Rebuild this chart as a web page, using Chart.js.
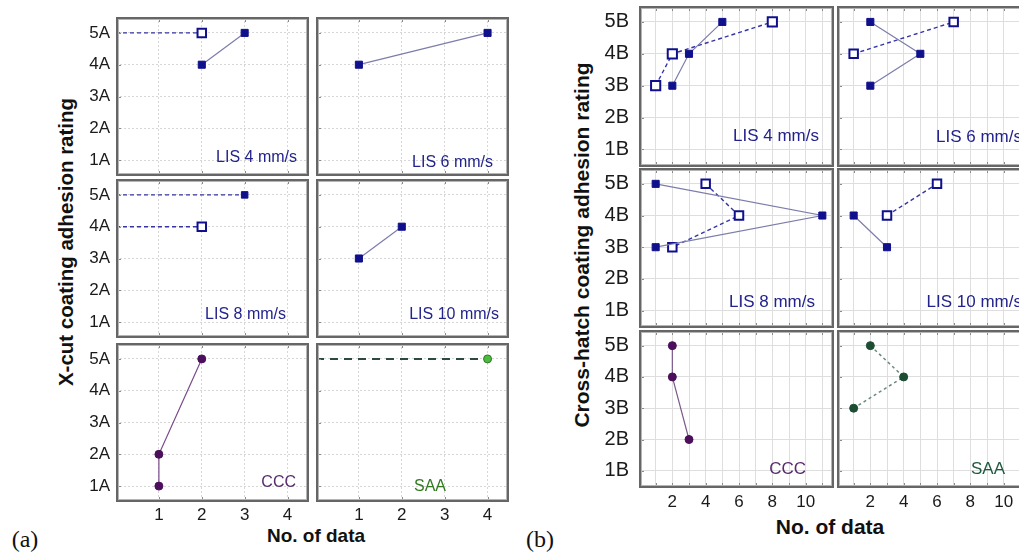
<!DOCTYPE html>
<html><head><meta charset="utf-8">
<script src="https://cdn.jsdelivr.net/npm/chart.js@4.4.1/dist/chart.umd.min.js"></script>
<style>
html,body{margin:0;padding:0;background:#fff;width:1019px;height:554px;overflow:hidden;position:relative;font-family:"Liberation Sans",Arial,sans-serif;}
canvas{position:absolute;}
.t{position:absolute;white-space:nowrap;color:#111;line-height:1;transform:translate(-50%,-50%);}
.b{font-weight:bold;}
.rot{transform:translate(-50%,-50%) rotate(-90deg);}
.serif{font-family:"Liberation Serif","Times New Roman",serif;}
</style></head><body>
<div class="t b rot" style="left:66px;top:242px;font-size:20.5px;">X-cut coating adhesion rating</div>
<div class="t b rot" style="left:581px;top:245px;font-size:21px;">Cross-hatch coating adhesion rating</div>
<div class="t b" style="left:316px;top:535px;font-size:19px;">No. of data</div>
<div class="t b" style="left:830px;top:526px;font-size:21px;">No. of data</div>
<div class="t serif" style="left:25px;top:539px;font-size:24px;">(a)</div>
<div class="t serif" style="left:540px;top:539px;font-size:24px;">(b)</div>
<script>
// ---------- tick labels / categories ----------
const panelLabels = ['LIS 4 mm/s', 'LIS 6 mm/s', 'LIS 8 mm/s', 'LIS 10 mm/s', 'CCC', 'SAA'];
const yTickLabelsA = ['1A', '2A', '3A', '4A', '5A'];
const xTickValuesA = [1, 2, 3, 4];
const yTickLabelsB = ['1B', '2B', '3B', '4B', '5B'];
const xTickValuesB = [2, 4, 6, 8, 10];

// ---------- panel (a) X-cut : [No. of data, rating] ----------
const aLis4Filled = [[2, 4], [3, 5]];
const aLis4Open = [[0, 5], [2, 5]];
const aLis6Filled = [[1, 4], [4, 5]];
const aLis8Filled = [[0, 5], [3, 5]];
const aLis8Open = [[0, 4], [2, 4]];
const aLis10Filled = [[1, 3], [2, 4]];
const aCCC = [[1, 1], [1, 2], [2, 5]];
const aSAA = [[0, 5], [4, 5]];

// ---------- panel (b) Cross-hatch : [No. of data, rating] ----------
const bLis4Filled = [[2, 3], [3, 4], [5, 5]];
const bLis4Open = [[1, 3], [2, 4], [8, 5]];
const bLis6Filled = [[2, 5], [5, 4], [2, 3]];
const bLis6Open = [[1, 4], [7, 5]];
const bLis8Filled = [[1, 5], [11, 4], [1, 3]];
const bLis8Open = [[4, 5], [6, 4], [2, 3]];
const bLis10Filled = [[1, 4], [3, 3]];
const bLis10Open = [[3, 4], [6, 5]];
const bCCC = [[2, 5], [2, 4], [3, 2]];
const bSAA = [[2, 5], [4, 4], [1, 3]];

// ---------- styles ----------
const NAVY = '#10108c';
const pts = arr => arr.map(p => ({x: p[0], y: p[1]}));
const rad = r => (c => (c.raw && c.raw.x === 0) ? 0 : r);

function filledSq(d, dashed, r) {
  return {data: pts(d), showLine: true, pointStyle: 'rect', pointRadius: rad(r || 5),
    backgroundColor: NAVY, pointBackgroundColor: NAVY, pointBorderColor: NAVY, pointBorderWidth: 1,
    borderColor: dashed ? '#3535a5' : '#7c7cab', borderWidth: dashed ? 1.4 : 1.2,
    borderDash: dashed ? [4, 3] : [], order: 1};
}
function openSq(d, r) {
  return {data: pts(d), showLine: true, pointStyle: 'rect', pointRadius: rad(r || 6),
    backgroundColor: '#ffffff', pointBackgroundColor: '#ffffff', pointBorderColor: NAVY, pointBorderWidth: 2,
    borderColor: '#3535a5', borderWidth: 1.4, borderDash: [4, 3], order: 2};
}
function circ(d, fill, stroke, line, dash, lw) {
  return {data: pts(d), showLine: true, pointStyle: 'circle', pointRadius: rad(4),
    pointBackgroundColor: fill, pointBorderColor: stroke, pointBorderWidth: 1,
    borderColor: line, borderWidth: lw || 1.2, borderDash: dash || [], order: 1};
}

const framePlugin = {
  id: 'frame',
  afterDraw(chart) {
    const {ctx, chartArea: a} = chart;
    const o = chart.options.plugins.frame || {};
    ctx.save();
    ctx.strokeStyle = '#8a8a8a'; ctx.lineWidth = 1;
    const xs = chart.scales.x, ys = chart.scales.y;
    xs.ticks.forEach(t => {
      const px = Math.round(xs.getPixelForValue(t.value)) + 0.5;
      ctx.beginPath(); ctx.moveTo(px, a.top); ctx.lineTo(px, a.top + 5);
      ctx.moveTo(px, a.bottom); ctx.lineTo(px, a.bottom - 5); ctx.stroke();
    });
    ys.ticks.forEach(t => {
      const py = Math.round(ys.getPixelForValue(t.value)) + 0.5;
      ctx.beginPath(); ctx.moveTo(a.left, py); ctx.lineTo(a.left + 5, py); ctx.stroke();
    });
    ctx.strokeStyle = '#666666'; ctx.lineWidth = 2;
    ctx.strokeRect(a.left + 1, a.top + 1, a.right - a.left - 2, a.bottom - a.top - 2);
    ctx.strokeStyle = '#b5b5b5'; ctx.lineWidth = 1;
    ctx.strokeRect(a.left + 2.5, a.top + 2.5, a.right - a.left - 5, a.bottom - a.top - 5);
    if (o.text) {
      ctx.fillStyle = o.color; ctx.font = o.font;
      ctx.textAlign = 'right'; ctx.textBaseline = 'middle';
      ctx.fillText(o.text, a.right - o.r, a.bottom - o.b);
    }
    ctx.restore();
  }
};

const FONT = '"Liberation Sans", Arial, sans-serif';
const zeroPad = sc => { sc.paddingTop = 0; sc.paddingBottom = 0; sc.paddingLeft = 0; sc.paddingRight = 0; };

function makePlot(s) {
  const yw = s.showY ? s.yw : 0;
  const xh = s.showX ? s.xh : 0;
  const c = document.createElement('canvas');
  const W = s.w + yw, H = s.h + xh;
  c.width = W; c.height = H;
  c.style.left = (s.left - yw) + 'px'; c.style.top = s.top + 'px';
  c.style.width = W + 'px'; c.style.height = H + 'px';
  document.body.appendChild(c);
  new Chart(c, {
    type: 'scatter',
    data: {datasets: s.datasets},
    options: {
      responsive: false, animation: false, devicePixelRatio: 1,
      layout: {padding: 0, autoPadding: false},
      elements: {line: {tension: 0}},
      plugins: {legend: {display: false}, tooltip: {enabled: false},
        frame: {text: s.label, color: s.labelColor, font: s.labelFont, r: s.lr, b: s.lb}},
      scales: {
        x: {type: 'linear', min: s.xMin, max: s.xMax,
          afterBuildTicks: sc => { sc.ticks = s.xGrid.map(v => ({value: v})); },
          afterFit: sc => { sc.height = xh; zeroPad(sc); },
          grid: {color: s.gridColor, drawTicks: false, lineWidth: 1},
          border: {display: false, dash: s.gridDash},
          ticks: {display: s.showX, padding: s.xPad, autoSkip: false, maxRotation: 0,
            color: '#1a1a1a', font: {family: FONT, size: s.xFont},
            callback: v => s.xLabels.includes(v) ? String(v) : ''}
        },
        y: {type: 'linear', min: s.yMin, max: s.yMax,
          afterBuildTicks: sc => { sc.ticks = [1, 2, 3, 4, 5].map(v => ({value: v})); },
          afterFit: sc => { sc.width = yw; zeroPad(sc); },
          grid: {color: s.gridColor, drawTicks: false, lineWidth: 1},
          border: {display: false, dash: s.gridDash},
          ticks: {display: s.showY, padding: s.yPad, autoSkip: false,
            color: '#1a1a1a', font: {family: FONT, size: s.yFont},
            callback: v => s.yLabels[v - 1]}
        }
      }
    },
    plugins: [framePlugin]
  });
}

// ---------- panel (a) layout ----------
const A = {cols: [116, 316], rows: [17, 179, 343], w: 193, h: 159};
const aSets = [
  [filledSq(aLis4Filled), openSq(aLis4Open)],
  [filledSq(aLis6Filled)],
  [filledSq(aLis8Filled, true, 4.6), openSq(aLis8Open)],
  [filledSq(aLis10Filled)],
  [circ(aCCC, '#4b0f5c', '#4b0f5c', '#7a4a8a')],
  [circ(aSAA, '#4dbb3f', '#2c7a22', '#2e4a3e', [8, 6], 2)]
];
const aLab = [
  {r: 12, b: 18, c: '#23238c'}, {r: 16, b: 13, c: '#23238c'},
  {r: 23, b: 23, c: '#23238c'}, {r: 10, b: 23, c: '#23238c'},
  {r: 13, b: 19, c: '#5a2a6e'}, {r: 63, b: 15, c: '#2f7a1f'}
];
for (let i = 0; i < 6; i++) {
  const col = i % 2, row = Math.floor(i / 2);
  makePlot({left: A.cols[col], top: A.rows[row], w: A.w, h: A.h,
    showY: col === 0, showX: row === 2, yw: 50, xh: 30,
    xMin: 0, xMax: 4.5, yMin: 0.5, yMax: 5.5,
    xGrid: [1, 2, 3, 4], xLabels: xTickValuesA, yLabels: yTickLabelsA,
    xPad: 3, yPad: 6, xFont: 17, yFont: 17,
    gridColor: '#d6d6d6', gridDash: [2, 2],
    datasets: aSets[i], label: panelLabels[i], labelColor: aLab[i].c,
    labelFont: '16px ' + FONT, lr: aLab[i].r, lb: aLab[i].b});
}

// ---------- panel (b) layout ----------
const B = {cols: [639, 837], rows: [6, 168, 330], w: 195, hs: [161, 160, 158]};
const bSets = [
  [filledSq(bLis4Filled), openSq(bLis4Open, 6.5)],
  [filledSq(bLis6Filled), openSq(bLis6Open, 6)],
  [filledSq(bLis8Filled), openSq(bLis8Open, 6)],
  [filledSq(bLis10Filled), openSq(bLis10Open, 6)],
  [circ(bCCC, '#4b0f5c', '#4b0f5c', '#7a5a8a')],
  [circ(bSAA, '#1d4d33', '#1d4d33', '#6a8a7a', [3, 3], 1.5)]
];
const bLab = [
  {r: 15, b: 31, c: '#23238c'}, {r: 10, b: 30, c: '#23238c'},
  {r: 19, b: 26, c: '#23238c'}, {r: 10, b: 26, c: '#23238c'},
  {r: 28, b: 19, c: '#5a2a6e'}, {r: 27, b: 19, c: '#1f5a3f'}
];
const bGrid = [1, 2, 3, 4, 5, 6, 7, 8, 9, 10, 11];
for (let i = 0; i < 6; i++) {
  const col = i % 2, row = Math.floor(i / 2);
  makePlot({left: B.cols[col], top: B.rows[row], w: B.w, h: B.hs[row],
    showY: col === 0, showX: row === 2, yw: 60, xh: 30,
    xMin: 0, xMax: 11.7, yMin: 0.45, yMax: 5.5,
    xGrid: bGrid, xLabels: xTickValuesB, yLabels: yTickLabelsB,
    xPad: 4, yPad: 10, xFont: 17, yFont: 20,
    gridColor: '#dedede', gridDash: [],
    datasets: bSets[i], label: panelLabels[i], labelColor: bLab[i].c,
    labelFont: '17px ' + FONT, lr: bLab[i].r, lb: bLab[i].b});
}
</script>
</body></html>
